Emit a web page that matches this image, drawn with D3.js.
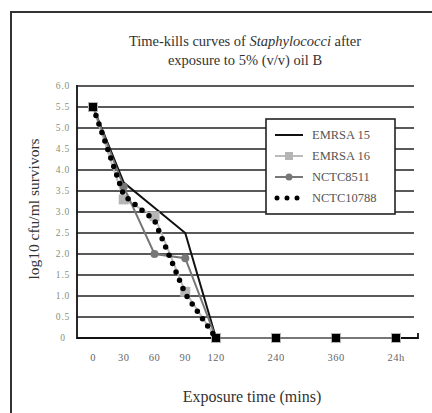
<!DOCTYPE html>
<html>
<head>
<meta charset="utf-8">
<script src="https://cdn.jsdelivr.net/npm/d3@7"></script>
<style>
  body { margin: 0; background: #fff; }
  text { font-family: "Liberation Serif", "DejaVu Serif", serif; }
</style>
</head>
<body>
<div id="chart"></div>
<script>
// time points (minutes; 24h = 1440) and their axis labels
var times = [0, 30, 60, 90, 120, 240, 360, 1440];
var timeLabels = ["0", "30", "60", "90", "120", "240", "360", "24h"];
var yTicks = [0, 0.5, 1, 1.5, 2, 2.5, 3, 3.5, 4, 4.5, 5, 5.5, 6];
var yTickLabels = ["0", "0.5", "1.0", "1.5", "2.0", "2.5", "3.0", "3.5", "4.0", "4.5", "5.0", "5.5", "6.0"];

// log10 cfu/ml survivors
var seriesNames = ["EMRSA 15", "EMRSA 16", "NCTC8511", "NCTC10788"];
var emrsa15 = [5.5, 3.7, 3.1, 2.5, 0, 0, 0, 0];
var emrsa16 = [5.5, 3.3, 2.9, 1.1, 0, 0, 0, 0];
var nctc8511 = [5.5, 3.6, 2.0, 1.9, 0, 0, 0, 0];
var nctc10788 = [5.5, 3.4, 2.8, 1.05, 0, 0, 0, 0];

var W = 432, H = 413;
var plotLeft = 77, plotRight = 414, plotTop = 86, plotBottom = 338;

var svg = d3.select("#chart").append("svg")
  .attr("width", W).attr("height", H);

// outer frame
svg.append("rect")
  .attr("x", 11).attr("y", 12).attr("width", 440).attr("height", 420)
  .attr("fill", "none").attr("stroke", "#333").attr("stroke-width", 2);

// category positions are not linear in time: 0..120 evenly, then wider gaps
var x = d3.scaleLinear()
  .domain([0, 120, 240, 360, 1440])
  .range([93, 216, 276, 336, 396]);
var y = d3.scaleLinear().domain([0, 6]).range([plotBottom, plotTop]);

// gridlines
svg.append("g").selectAll("line")
  .data(yTicks.filter(d => d > 0))
  .join("line")
  .attr("x1", plotLeft).attr("x2", plotRight)
  .attr("y1", d => y(d)).attr("y2", d => y(d))
  .attr("stroke", "#222").attr("stroke-width", 1.6);

// axes
svg.append("line").attr("x1", plotLeft).attr("x2", plotLeft)
  .attr("y1", plotTop - 1).attr("y2", plotBottom + 1)
  .attr("stroke", "#111").attr("stroke-width", 1.8);
svg.append("path")
  .attr("d", "M" + plotLeft + "," + plotBottom + "H" + (plotRight + 4) + "V" + (plotBottom - 5))
  .attr("fill", "none").attr("stroke", "#111").attr("stroke-width", 1.8);

// y tick labels
svg.append("g").selectAll("text")
  .data(yTicks)
  .join("text")
  .attr("x", 63).attr("y", d => y(d) + 3)
  .attr("text-anchor", "middle")
  .attr("font-size", 9.5)
  .attr("letter-spacing", 0.8)
  .attr("fill", "#7f917a")
  .text((d, i) => yTickLabels[i]);

// x tick labels
svg.append("g").selectAll("text")
  .data(times)
  .join("text")
  .attr("x", d => x(d)).attr("y", 361)
  .attr("text-anchor", "middle")
  .attr("font-size", 10.5)
  .attr("letter-spacing", 0.5)
  .attr("fill", "#666")
  .text((d, i) => timeLabels[i]);

// titles
var title = svg.append("text").attr("x", 245).attr("y", 46)
  .attr("text-anchor", "middle").attr("font-size", 14.5).attr("fill", "#333");
title.append("tspan").text("Time-kills curves of ");
title.append("tspan").attr("font-style", "italic").text("Staphylococci");
title.append("tspan").text(" after");
svg.append("text").attr("x", 245).attr("y", 65)
  .attr("text-anchor", "middle").attr("font-size", 14.5).attr("fill", "#333")
  .text("exposure to 5% (v/v) oil B");

svg.append("text").attr("x", 252).attr("y", 402)
  .attr("text-anchor", "middle").attr("font-size", 16).attr("fill", "#333")
  .text("Exposure time (mins)");

svg.append("text")
  .attr("transform", "translate(39,209) rotate(-90)")
  .attr("text-anchor", "middle").attr("font-size", 15.5).attr("fill", "#333")
  .text("log10 cfu/ml survivors");

var line = d3.line().x((d, i) => x(times[i])).y(d => y(d));

// EMRSA 15 - black solid, no markers
svg.append("path").datum(emrsa15).attr("d", line)
  .attr("fill", "none").attr("stroke", "#111").attr("stroke-width", 2);

// EMRSA 16 - light grey, square markers
svg.append("path").datum(emrsa16).attr("d", line)
  .attr("fill", "none").attr("stroke", "#bbb").attr("stroke-width", 2);
svg.append("g").selectAll("rect").data(emrsa16).join("rect")
  .attr("x", (d, i) => x(times[i]) - 5).attr("y", d => y(d) - 5)
  .attr("width", 10).attr("height", 10).attr("fill", "#b5b5b5");

// NCTC8511 - dark grey, round markers
svg.append("path").datum(nctc8511).attr("d", line)
  .attr("fill", "none").attr("stroke", "#777").attr("stroke-width", 2);
svg.append("g").selectAll("circle").data(nctc8511).join("circle")
  .attr("cx", (d, i) => x(times[i])).attr("cy", d => y(d))
  .attr("r", 4).attr("fill", "#777");

// NCTC10788 - black round dots, drawn until the count reaches zero
var firstZero = nctc10788.indexOf(0);
svg.append("path").datum(nctc10788.slice(0, firstZero + 1)).attr("d", line)
  .attr("fill", "none").attr("stroke", "#000").attr("stroke-width", 5.5)
  .attr("stroke-linecap", "round").attr("stroke-dasharray", "0 9");
svg.append("g").selectAll("rect")
  .data(nctc10788.map((v, i) => ({v: v, i: i})).filter(d => d.i === 0 || d.v === 0))
  .join("rect")
  .attr("x", d => x(times[d.i]) - 4).attr("y", d => y(d.v) - 4)
  .attr("width", 8).attr("height", 8).attr("fill", "#000");

// legend
var lg = svg.append("g").attr("transform", "translate(266,119)");
lg.append("rect").attr("width", 129).attr("height", 95)
  .attr("fill", "#fff").attr("stroke", "#222").attr("stroke-width", 1.6);
var rows = lg.selectAll("g.row").data(seriesNames).join("g")
  .attr("class", "row")
  .attr("transform", (d, i) => "translate(0," + (16 + i * 21) + ")");
rows.append("text").attr("x", 46).attr("y", 4)
  .attr("font-size", 12.5).attr("fill", "#555").text(d => d);

var r0 = rows.filter((d, i) => i === 0);
r0.append("line").attr("x1", 9).attr("x2", 37).attr("stroke", "#111").attr("stroke-width", 2);
var r1 = rows.filter((d, i) => i === 1);
r1.append("line").attr("x1", 9).attr("x2", 37).attr("stroke", "#bbb").attr("stroke-width", 2);
r1.append("rect").attr("x", 19).attr("y", -4).attr("width", 8).attr("height", 8).attr("fill", "#b5b5b5");
var r2 = rows.filter((d, i) => i === 2);
r2.append("line").attr("x1", 9).attr("x2", 37).attr("stroke", "#777").attr("stroke-width", 2);
r2.append("circle").attr("cx", 23).attr("r", 3.5).attr("fill", "#777");
var r3 = rows.filter((d, i) => i === 3);
r3.append("line").attr("x1", 11).attr("x2", 35).attr("stroke", "#000").attr("stroke-width", 5)
  .attr("stroke-linecap", "round").attr("stroke-dasharray", "0 10");
</script>
</body>
</html>
